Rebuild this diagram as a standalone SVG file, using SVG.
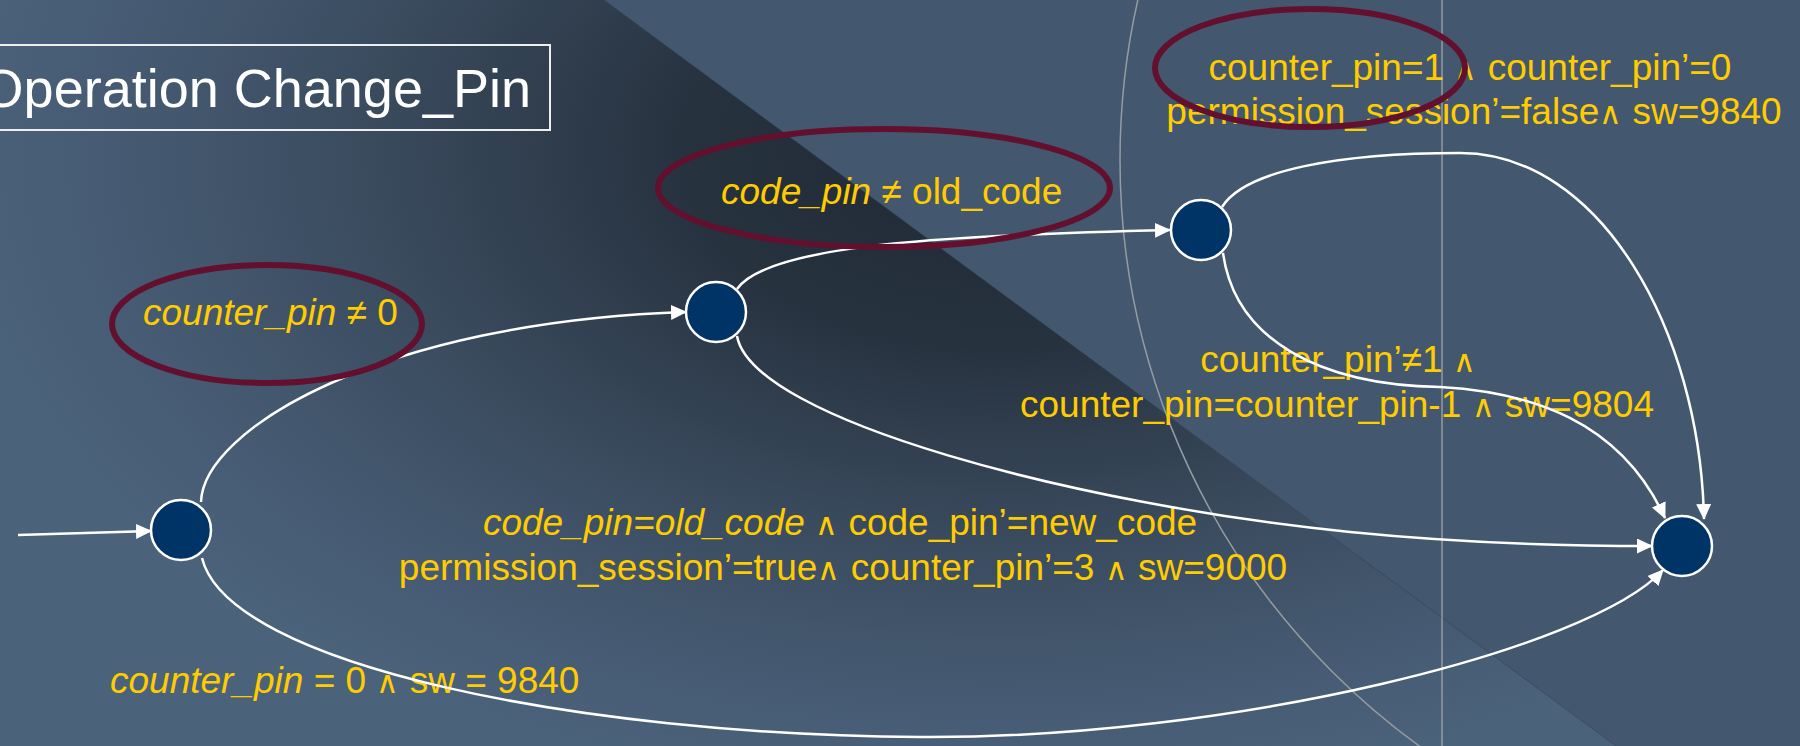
<svg xmlns="http://www.w3.org/2000/svg" width="1800" height="746" viewBox="0 0 1800 746">
  <style>
    .lbl { font-family: "Liberation Sans", Arial, sans-serif; font-size: 37px; fill: #ffcc00; }
    .it { font-style: italic; }
    .w { font-family: "DejaVu Sans", sans-serif; font-size: 31px; font-weight: 200; font-style: normal; }
    .title { font-family: "Liberation Sans", Arial, sans-serif; font-size: 54px; fill: #ffffff; }
    .edge { fill: none; stroke: #ffffff; stroke-width: 2.5; marker-end: url(#arrow); }
    .state { fill: #003366; stroke: #ffffff; stroke-width: 2.5; }
    .mark { fill: none; stroke: #63102e; stroke-width: 6; }
    .guide { fill: none; stroke: #969ba2; stroke-width: 1.5; }
  </style>
  <defs>
    <radialGradient id="bgShade" gradientUnits="userSpaceOnUse" cx="1000" cy="150" r="1050"
                    gradientTransform="translate(1000 150) scale(1 0.62) translate(-1000 -150)">
      <stop offset="0" stop-color="#1f2935"/>
      <stop offset="0.3" stop-color="#27323f"/>
      <stop offset="0.6" stop-color="#3a4b5e"/>
      <stop offset="0.85" stop-color="#465b73"/>
      <stop offset="1" stop-color="#4b627b"/>
    </radialGradient>
    <marker id="arrow" markerUnits="userSpaceOnUse" markerWidth="18" markerHeight="16"
            refX="15" refY="7.5" orient="auto">
      <path d="M0,0 L16,7.5 L0,15 Z" fill="#ffffff"/>
    </marker>
  </defs>

  <!-- backdrop -->
  <rect x="0" y="0" width="1800" height="746" fill="url(#bgShade)"/>
  <polygon points="604,0 1800,0 1800,746 1616,746" fill="#43586e"/>
  <line x1="604" y1="0" x2="1616" y2="746" stroke="#34455a" stroke-opacity="0.6" stroke-width="1"/>
  <circle class="guide" cx="1843" cy="160" r="723"/>
  <line class="guide" x1="1442" y1="0" x2="1442" y2="746"/>

  <!-- title -->
  <g id="title">
    <rect x="-10" y="45" width="560" height="85" fill="none" stroke="#eeeeee" stroke-width="2"/>
    <text class="title" x="531" y="107" text-anchor="end">Operation Change_Pin</text>
  </g>

  <!-- transition labels -->
  <g id="labels">
    <text class="lbl" x="143" y="325"><tspan class="it">counter_pin</tspan> ≠ 0</text>
    <text class="lbl" x="721" y="204"><tspan class="it">code_pin</tspan> ≠ old_code</text>
    <text class="lbl" x="1470" y="80" text-anchor="middle">counter_pin=1 <tspan class="w">∧</tspan> counter_pin’=0</text>
    <text class="lbl" x="1474" y="124" text-anchor="middle">permission_session’=false<tspan class="w">∧</tspan> sw=9840</text>
    <text class="lbl" x="1338" y="372" text-anchor="middle">counter_pin’≠1 <tspan class="w">∧</tspan></text>
    <text class="lbl" x="1337" y="417" text-anchor="middle">counter_pin=counter_pin-1 <tspan class="w">∧</tspan> sw=9804</text>
    <text class="lbl" x="840" y="535" text-anchor="middle"><tspan class="it">code_pin=old_code</tspan> <tspan class="w">∧</tspan> code_pin’=new_code</text>
    <text class="lbl" x="843" y="580" text-anchor="middle">permission_session’=true<tspan class="w">∧</tspan> counter_pin’=3 <tspan class="w">∧</tspan> sw=9000</text>
    <text class="lbl" x="110" y="693"><tspan class="it">counter_pin</tspan> = 0 <tspan class="w">∧</tspan> sw = 9840</text>
  </g>

  <!-- transitions -->
  <g id="connectors">
    <path class="edge" d="M18,535 L151,531"/>
    <path class="edge" d="M201,502 C203,430 380,322 686,312"/>
    <path class="edge" d="M737,289 C765,250 900,236 1170,230"/>
    <path class="edge" d="M737,336 C752,420 1080,505 1350,532 C1480,545 1590,546 1652,546"/>
    <path class="edge" d="M1222,207 C1245,170 1340,153 1460,153 C1600,153 1700,330 1704,519"/>
    <path class="edge" d="M1223,253 C1235,340 1320,385 1440,387 C1530,392 1620,420 1665,518"/>
    <path class="edge" d="M202,558 C228,665 580,735 920,737 C1230,739 1590,650 1663,570"/>
  </g>

  <!-- states -->
  <g id="s0"><circle class="state" cx="181" cy="530" r="30"/></g>
  <g id="s1"><circle class="state" cx="716" cy="312" r="30"/></g>
  <g id="s2"><circle class="state" cx="1201" cy="230" r="30"/></g>
  <g id="s3"><circle class="state" cx="1682" cy="546" r="30"/></g>

  <!-- highlighted guards -->
  <g id="highlights">
    <ellipse class="mark" cx="267" cy="324" rx="155" ry="59"/>
    <ellipse class="mark" cx="884" cy="188" rx="226" ry="59"/>
    <ellipse class="mark" cx="1310" cy="68" rx="155" ry="59"/>
  </g>
</svg>
